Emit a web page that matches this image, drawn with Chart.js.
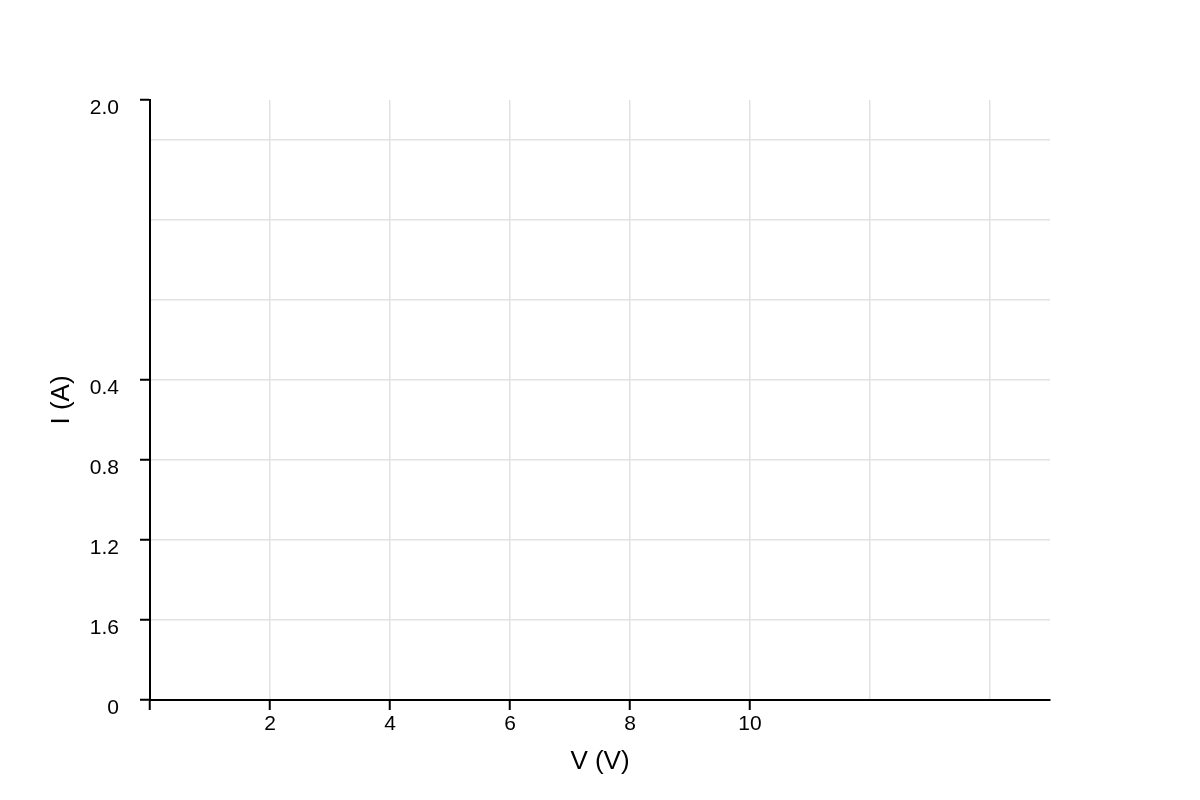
<!DOCTYPE html>
<html>
<head>
<meta charset="utf-8">
<script src="https://cdn.jsdelivr.net/npm/chart.js@4/dist/chart.umd.min.js"></script>
<style>
  html, body { margin: 0; padding: 0; background: #fff; }
  #wrap { width: 1200px; height: 800px; }
</style>
</head>
<body>
<div id="wrap"><canvas id="ivChart" width="1200" height="800"></canvas></div>
<script>
// axis ticks as they appear on the picture (plot is empty)
const xTicks = [0, 2, 4, 6, 8, 10, 12, 14];
const xTickLabels = ["", "2", "4", "6", "8", "10", "", ""];
const xTickMarks = [true, true, true, true, true, true, false, false];

// y grid positions in grid steps from the bottom; labels
const yTicks = [0, 1, 2, 3, 4, 5, 6, 7, 7.5];
const yTickLabels = ["0", "1.6", "1.2", "0.8", "0.4", "", "", "", "2.0"];
const yTickMarks = [true, true, true, true, true, false, false, false, true];
const yGridLines = [true, true, true, true, true, true, true, true, false];

const ivPoints = [];

document.addEventListener("DOMContentLoaded", function () {
    const ctx = document.getElementById("ivChart").getContext("2d");
    const font = "'Liberation Sans', Arial, sans-serif";
    const gridGrey = "#e2e2e2";

    new Chart(ctx, {
        type: "scatter",
        data: {
            datasets: [{ label: "I-V", data: ivPoints }]
        },
        options: {
            responsive: false,
            animation: false,
            layout: { padding: { top: 100, right: 150, bottom: 0, left: 0 } },
            plugins: { legend: { display: false }, tooltip: { enabled: false } },
            scales: {
                x: {
                    type: "linear",
                    min: 0,
                    max: 15,
                    afterFit: s => { s.height = 100; },
                    afterBuildTicks: s => { s.ticks = xTicks.map(v => ({ value: v })); },
                    border: { display: true, color: "#000", width: 2 },
                    grid: {
                        color: gridGrey,
                        lineWidth: 1.5,
                        drawTicks: true,
                        tickLength: 10,
                        tickWidth: 2,
                        tickColor: c => xTickMarks[c.index] ? "#000" : "rgba(0,0,0,0)"
                    },
                    ticks: {
                        autoSkip: false,
                        maxRotation: 0,
                        padding: 2,
                        color: "#000",
                        font: { family: font, size: 21 },
                        callback: (v, i) => xTickLabels[i]
                    },
                    title: {
                        display: true,
                        text: "V (V)",
                        color: "#000",
                        font: { family: font, size: 26 },
                        padding: { top: 0, bottom: 23 }
                    }
                },
                y: {
                    type: "linear",
                    min: 0,
                    max: 7.5,
                    afterFit: s => { s.width = 150; },
                    afterBuildTicks: s => { s.ticks = yTicks.map(v => ({ value: v })); },
                    border: { display: true, color: "#000", width: 2 },
                    grid: {
                        color: c => yGridLines[c.index] ? gridGrey : "rgba(0,0,0,0)",
                        lineWidth: 1.5,
                        drawTicks: true,
                        tickLength: 10,
                        tickWidth: 2,
                        tickColor: c => yTickMarks[c.index] ? "#000" : "rgba(0,0,0,0)"
                    },
                    ticks: {
                        autoSkip: false,
                        padding: 21,
                        labelOffset: 8,
                        color: "#000",
                        font: { family: font, size: 21 },
                        callback: (v, i) => yTickLabels[i]
                    },
                    title: {
                        display: true,
                        text: "I (A)",
                        color: "#000",
                        font: { family: font, size: 26 },
                        padding: { top: 46, bottom: 0 }
                    }
                }
            }
        }
    });
});
</script>
</body>
</html>
